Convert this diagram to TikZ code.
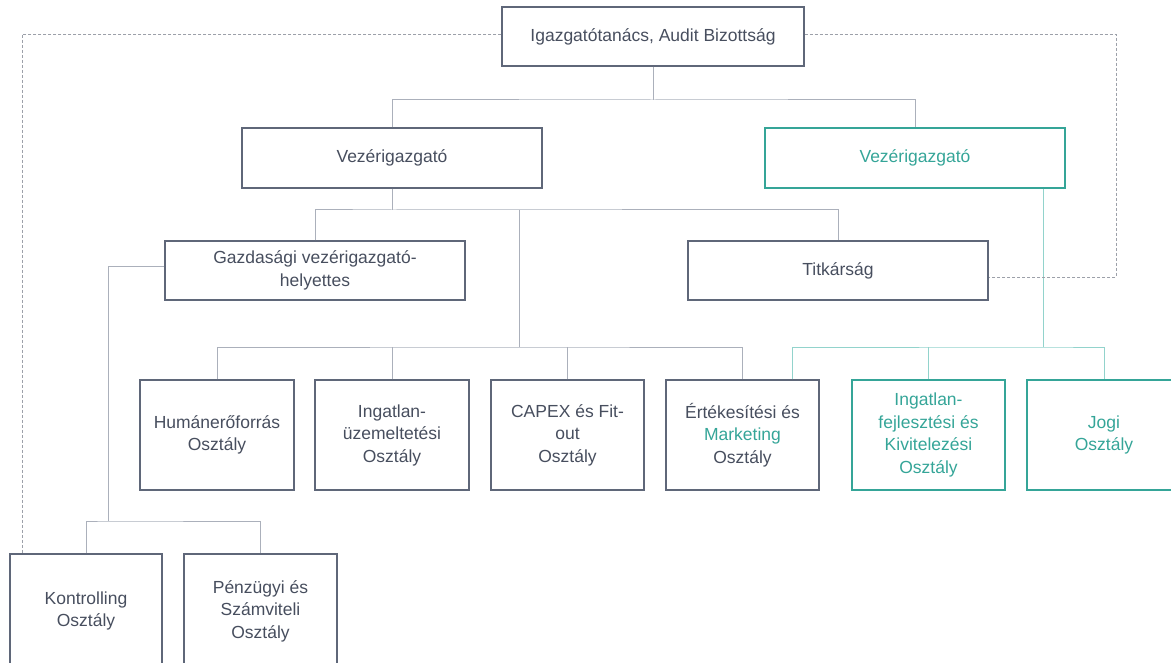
\documentclass[tikz,border=0pt]{standalone}
\usepackage{fontspec}
\setmainfont{Liberation Sans}
\definecolor{boxgray}{HTML}{5F6779}
\definecolor{txtgray}{HTML}{474E5E}
\definecolor{linegray}{HTML}{ABB0BB}
\definecolor{tealA}{HTML}{35A598}
\definecolor{teallight}{HTML}{92D3CC}
\definecolor{dashgray}{HTML}{9CA0A9}
\begin{document}
\begin{tikzpicture}[x=1pt,y=-1pt,
  box/.style={draw=boxgray, line width=1.4pt, text=txtgray,
    font=\fontsize{17.5}{22.5}\selectfont, align=center, inner sep=0pt,
    minimum height=59pt},
  tbox/.style={box, draw=tealA, text=tealA},
  conn/.style={draw=linegray, line width=1pt},
  tconn/.style={draw=teallight, line width=1pt},
  dconn/.style={draw=dashgray, line width=0.9pt, dash pattern=on 3pt off 2pt}]
\useasboundingbox (0,0) rectangle (1171,663);
\clip (0,0) rectangle (1171,663);

% level 0
\node[box, minimum width=302pt] (top) at (653,36.5) {Igazgatótanács, Audit Bizottság};
% level 1
\node[box, minimum width=300pt, minimum height=60pt] (gv) at (392,158) {Vezérigazgató};
\node[tbox, minimum width=300pt, minimum height=60pt] (tv) at (915,158) {Vezérigazgató};
% level 2
\node[box, minimum width=300pt] (gazd) at (315,270.5) {Gazdasági vezérigazgató-\\helyettes};
\node[box, minimum width=300pt] (titk) at (838,270.5) {Titkárság};
% level 3
\node[box, minimum width=154pt, minimum height=110pt] (hum) at (217,435) {Humánerőforrás\\Osztály};
\node[box, minimum width=154pt, minimum height=110pt] (ing) at (392,435) {Ingatlan-\\üzemeltetési\\Osztály};
\node[box, minimum width=153pt, minimum height=110pt] (capex) at (567.5,435) {CAPEX és Fit-\\out\\Osztály};
\node[box, minimum width=153pt, minimum height=110pt] (ert) at (742.5,435) {Értékesítési és\\{\color{tealA}Marketing}\\Osztály};
\node[tbox, minimum width=153pt, minimum height=110pt] (ifk) at (928.5,435) {Ingatlan-\\fejlesztési és\\Kivitelezési\\Osztály};
\node[tbox, minimum width=154pt, minimum height=110pt] (jogi) at (1104,435) {Jogi\\Osztály};
% level 4
\node[box, minimum width=152pt, minimum height=114pt] (kont) at (86,611) {Kontrolling\\Osztály};
\node[box, minimum width=153pt, minimum height=114pt] (penz) at (260.5,611) {Pénzügyi és\\Számviteli\\Osztály};

% gray connectors
\coordinate (j1) at (653,100);
\draw[conn] (top.south) -- (j1);
\draw[conn] (gv.north) |- (j1) -| (tv.north);
\coordinate (j2) at (392,210);
\draw[conn] (gv.south) -- (j2);
\draw[conn] (gazd.north) |- (j2) -| (titk.north);
\coordinate (j3) at (519,210);
\coordinate (j4) at (519,347);
\draw[conn] (j3) -- (j4);
\draw[conn] (hum.north) |- (j4) -| (ert.north);
\draw[conn] (ing.north) -- (ing.north |- j4);
\draw[conn] (capex.north) -- (capex.north |- j4);
\coordinate (j5) at (108,521);
\draw[conn] ([yshift=3.5pt]gazd.west) -| (j5);
\draw[conn] (kont.north) |- (j5) -| (penz.north);

% teal connectors
\coordinate (t1) at (1043,347);
\coordinate (te) at (792,347);
\draw[tconn] (tv.south -| t1) -- (t1);
\draw[tconn] (te |- ert.north) |- (t1) -| (jogi.north);
\draw[tconn] (ifk.north) -- (ifk.north |- t1);

% dashed connectors
\coordinate (d1) at (22,34);
\coordinate (d2) at (1116,34);
\draw[dconn] ([yshift=2.5pt]top.west) -- (d1) -- (d1 |- kont.north);
\draw[dconn] ([yshift=2.5pt]top.east) -- (d2) |- ([yshift=-6.5pt]titk.east);
\end{tikzpicture}
\end{document}
